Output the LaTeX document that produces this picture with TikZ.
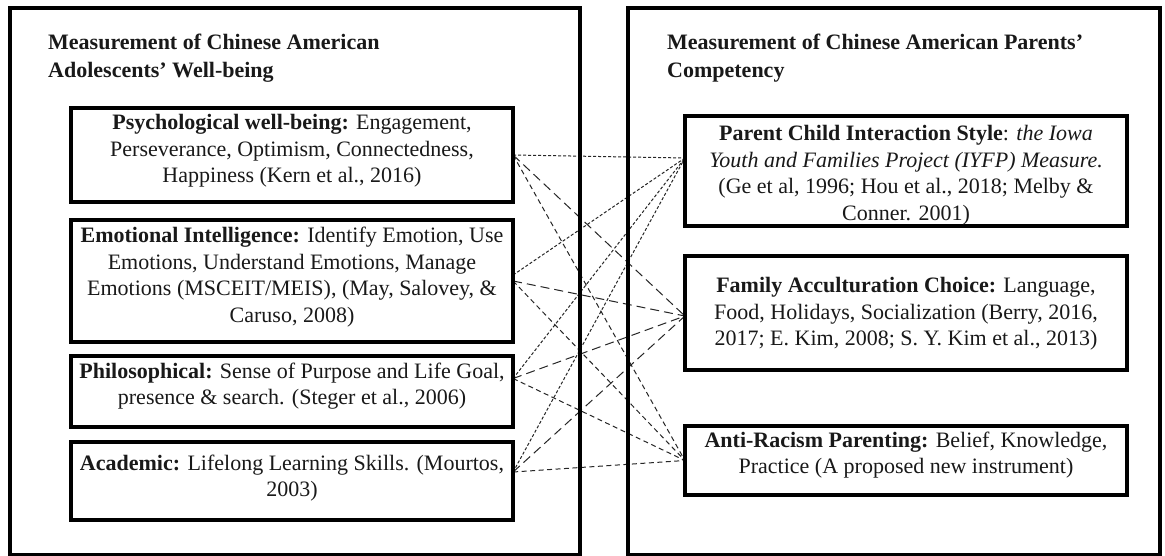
\documentclass[tikz,border=0pt]{standalone}
\usepackage{fontspec}
\setmainfont{Liberation Serif}
\begin{document}
\begin{tikzpicture}[x=1pt,y=-1pt,
  box/.style={draw=black, line width=4.2pt, rectangle, inner sep=0pt},
  frame/.style={draw=black, line width=4.2pt},
  txt/.style={align=center, inner sep=0pt, text=black!90, font=\fontsize{22}{26.5}\selectfont},
  ttl/.style={align=left, inner sep=0pt, anchor=north west, text=black!90, font=\bfseries\fontsize{22}{28}\selectfont},
  lnk/.style={draw=black!85, line width=1pt},
  lnkfine/.style={lnk, dash pattern=on 3pt off 2pt},
  lnklong/.style={lnk, dash pattern=on 9pt off 5pt},
  lnkmed/.style={lnk, dash pattern=on 5pt off 3.5pt}
]
\useasboundingbox[fill=white] (0,0) rectangle (1165,556);

% box geometry (outlines drawn later)
\node[box, draw=none, minimum width=438pt, minimum height=90pt] (b1) at (292,155) {};
\node[box, draw=none, minimum width=438pt, minimum height=118pt] (b2) at (292,281) {};
\node[box, draw=none, minimum width=438pt, minimum height=67pt] (b3) at (292,391.5) {};
\node[box, draw=none, minimum width=438pt, minimum height=74pt] (b4) at (292,481) {};
\node[box, draw=none, minimum width=438pt, minimum height=106pt] (r1) at (906,171) {};
\node[box, draw=none, minimum width=438pt, minimum height=110pt] (r2) at (906,313) {};
\node[box, draw=none, minimum width=438pt, minimum height=65pt] (r3) at (906,460.5) {};

% connectors
\draw[lnkfine] (b1.east) -- ([yshift=13pt]r1.west);
\draw[lnklong] (b1.east) -- ([yshift=-3pt]r2.west);
\draw[lnkmed]  (b1.east) -- (r3.west);
\draw[lnkfine] ([yshift=6pt]b2.east) -- ([yshift=13pt]r1.west);
\draw[lnklong] (b2.east) -- ([yshift=-3pt]r2.west);
\draw[lnkmed]  (b2.east) -- (r3.west);
\draw[lnkfine] ([yshift=13pt]b3.east) -- ([yshift=13pt]r1.west);
\draw[lnklong] ([yshift=13pt]b3.east) -- ([yshift=-3pt]r2.west);
\draw[lnkmed]  ([yshift=13pt]b3.east) -- (r3.west);
\draw[lnkfine] ([yshift=9pt]b4.east) -- ([yshift=13pt]r1.west);
\draw[lnklong] ([yshift=9pt]b4.east) -- ([yshift=-3pt]r2.west);
\draw[lnkmed]  ([yshift=9pt]b4.east) -- (r3.west);

% outer boxes
\node[box, minimum width=570pt, minimum height=547pt] (L) at (295,281.5) {};
\node[box, minimum width=532pt, minimum height=547pt] (R) at (894,281.5) {};
\node[ttl] (Lt) at (48,34) {Measurement of Chinese American\\Adolescents’ Well-being};
\node[ttl] (Rt) at (667,34) {Measurement of Chinese American Parents’\\Competency};

% inner boxes
\draw[frame] (b1.south west) rectangle (b1.north east);
\draw[frame] (b2.south west) rectangle (b2.north east);
\draw[frame] (b3.south west) rectangle (b3.north east);
\draw[frame] (b4.south west) rectangle (b4.north east);
\draw[frame] (r1.south west) rectangle (r1.north east);
\draw[frame] (r2.south west) rectangle (r2.north east);
\draw[frame] (r3.south west) rectangle (r3.north east);

\node[txt] (t1) at (292,151) {\textbf{Psychological well-being:} Engagement,\\Perseverance, Optimism, Connectedness,\\Happiness (Kern et al., 2016)};
\node[txt] (t2) at (292,277) {\textbf{Emotional Intelligence:} Identify Emotion, Use\\Emotions, Understand Emotions, Manage\\Emotions (MSCEIT/MEIS), (May, Salovey, \&\\Caruso, 2008)};
\node[txt] (t3) at (292,386) {\textbf{Philosophical:} Sense of Purpose and Life Goal,\\presence \& search. (Steger et al., 2006)};
\node[txt] (t4) at (292,478) {\textbf{Academic:} Lifelong Learning Skills. (Mourtos,\\2003)};
\node[txt] (u1) at (906,175) {\textbf{Parent Child Interaction Style}: \textit{the Iowa}\\\textit{Youth and Families Project (IYFP) Measure.}\\(Ge et al, 1996; Hou et al., 2018; Melby \&\\Conner. 2001)};
\node[txt] (u2) at (906,314) {\textbf{Family Acculturation Choice:} Language,\\Food, Holidays, Socialization (Berry, 2016,\\2017; E. Kim, 2008; S. Y. Kim et al., 2013)};
\node[txt] (u3) at (906,455) {\textbf{Anti-Racism Parenting:} Belief, Knowledge,\\Practice (A proposed new instrument)};
\end{tikzpicture}
\end{document}
